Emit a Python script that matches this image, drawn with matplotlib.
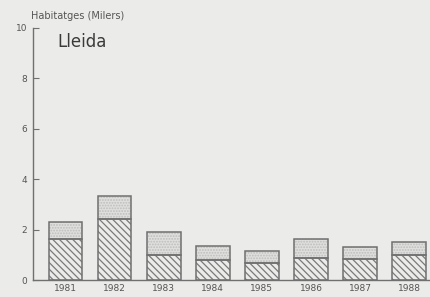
import matplotlib.pyplot as plt
import numpy as np

# Dades (milers d'habitatges)
years = ['1981', '1982', '1983', '1984', '1985', '1986', '1987', '1988']
lower = [1.62, 2.41, 0.98, 0.78, 0.67, 0.88, 0.83, 0.98]
total = [2.29, 3.35, 1.92, 1.33, 1.15, 1.61, 1.30, 1.51]
upper = [t - l for t, l in zip(total, lower)]
yticks = [0, 2, 4, 6, 8, 10]

bg = '#ebebe9'
line_col = '#707070'
text_col = '#555555'

plt.rcParams['hatch.linewidth'] = 0.9

fig = plt.figure(figsize=(4.31, 2.97), dpi=100, facecolor=bg)
ax = fig.add_axes([0.0766, 0.0572, 0.93, 0.849])
ax.set_facecolor(bg)

x = np.arange(len(years))
w = 0.68

# lower part: diagonal hatch
ax.bar(x, lower, width=w, color=bg, edgecolor='#7a7a7a', hatch='\\\\\\\\\\', linewidth=0)
# upper part: fine stipple
ax.bar(x, upper, bottom=lower, width=w, color='#dfdfdd', edgecolor='#bdbdbb',
       hatch='......', linewidth=0)
# outlines
ax.bar(x, lower, width=w, fill=False, edgecolor=line_col, linewidth=1.1)
ax.bar(x, upper, bottom=lower, width=w, fill=False, edgecolor=line_col, linewidth=1.1)

ax.set_xlim(-0.667, 7.505)
ax.set_ylim(0, 10)
ax.set_yticks(yticks)
ax.set_xticks(x)
ax.set_xticklabels(years)

for s in ['top', 'right']:
    ax.spines[s].set_visible(False)
for s in ['left', 'bottom']:
    ax.spines[s].set_color(line_col)
    ax.spines[s].set_linewidth(1.0)

ax.tick_params(axis='y', direction='in', length=4, width=0.8, color=line_col,
               labelsize=6.5, labelcolor=text_col, pad=4)
ax.tick_params(axis='x', length=0, labelsize=6.5, labelcolor=text_col, pad=3)

fig.text(0.072, 0.946, 'Habitatges (Milers)', fontsize=7, color=text_col,
         ha='left', va='center')
fig.text(0.132, 0.858, 'Lleida', fontsize=12, color='#3a3a3a',
         ha='left', va='center')

plt.savefig('out.png', dpi=100, facecolor=bg)
